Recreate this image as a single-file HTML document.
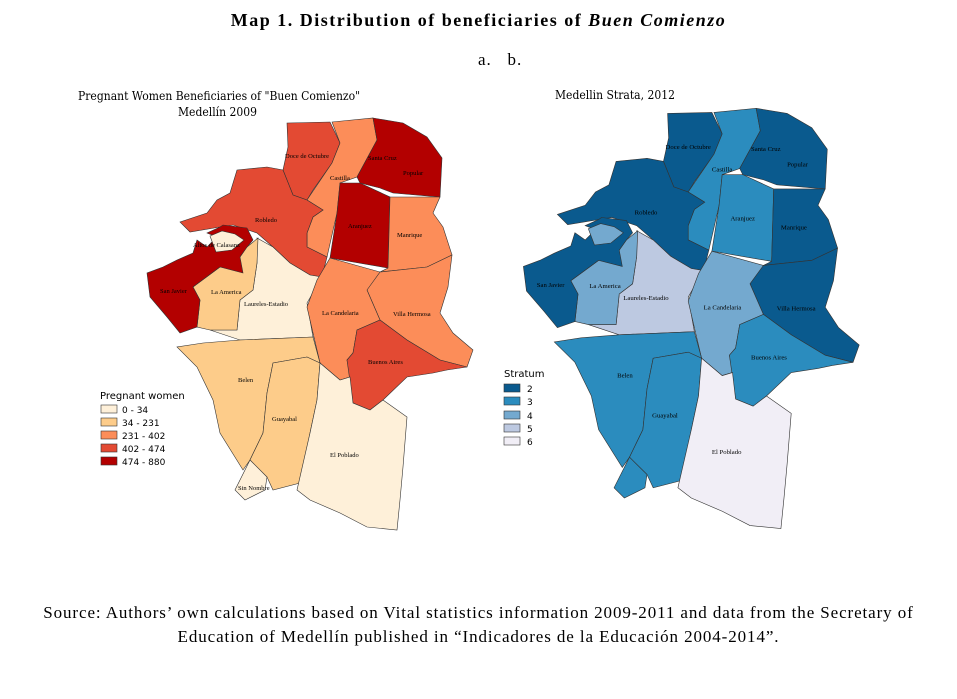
<!DOCTYPE html>
<html><head><meta charset="utf-8"><style>
body{margin:0;width:957px;height:699px;background:#fff;font-family:"Liberation Serif",serif;position:relative;overflow:hidden}
.t{position:absolute;white-space:nowrap}
svg{position:absolute;left:0;top:0}
</style></head><body>
<div class="t" style="left:0;width:957px;text-align:center;top:10px;font-size:18px;font-weight:bold;letter-spacing:1.5px">Map 1. Distribution of beneficiaries of <i>Buen Comienzo</i></div>
<div class="t" style="left:478px;top:50px;font-size:17px;letter-spacing:1px">a.&nbsp;&nbsp;&nbsp;b.</div>
<div class="t" style="left:78px;top:89px;font-size:12px;font-family:'DejaVu Serif',serif;transform:scaleX(0.9);transform-origin:left">Pregnant Women Beneficiaries of "Buen Comienzo"</div>
<div class="t" style="left:178px;top:105px;font-size:12px;font-family:'DejaVu Serif',serif;transform:scaleX(0.9);transform-origin:left">Medellín 2009</div>
<div class="t" style="left:555px;top:88px;font-size:12px;font-family:'DejaVu Serif',serif;transform:scaleX(0.9);transform-origin:left">Medellin Strata, 2012</div>
<svg width="957" height="699" viewBox="0 0 957 699" font-family="Liberation Serif,serif">
<defs>
<g id="m" stroke="#333" stroke-width="0.6">
<polygon id="doce" points="287,123 330,122 340,143 332,163 313,190 307,200 293,195 283,170 288,147"/>
<polygon id="cast" points="332,122 373,118 377,140 357,177 340,183 337,213 327,257 307,247 307,233 313,217 323,210 307,200 332,163 340,143"/>
<polygon id="sc" points="373,118 403,123 427,137 442,158 440,197 393,193 380,188 360,183 357,177 377,140"/>
<polygon id="ar" points="340,183 360,183 390,197 388,268 330,258 337,213"/>
<polygon id="man" points="390,197 440,197 433,213 443,227 452,255 427,267 380,272 388,268"/>
<polygon id="rob" points="237,170 267,167 283,170 293,195 307,200 323,210 313,217 307,233 307,247 327,257 322,277 310,275 290,263 273,247 257,233 233,225 220,227 190,232 180,222 207,213 217,200 230,193"/>
<polygon id="lau" points="257,238 273,247 290,263 310,275 322,277 307,303 313,337 240,340 210,330 237,330 240,300 253,290 257,263"/>
<polygon id="am" points="258,238 257,263 253,290 240,300 237,330 210,330 197,327 200,300 193,287 220,267 240,257 247,247"/>
<polygon id="sj" points="223,225 247,228 253,240 247,247 240,257 243,273 220,267 193,287 200,300 197,327 180,333 167,317 150,297 147,273 163,267 177,260 193,253 197,240 207,247 217,237 207,233 220,227"/>
<polygon id="alt" points="210,236 222,231 235,234 244,240 232,250 216,252"/>
<polygon id="vh" points="380,272 427,267 452,255 448,287 440,313 453,333 473,350 467,367 440,360 407,340 380,320 367,290 373,273"/>
<polygon id="can" points="330,258 380,272 367,290 380,320 357,330 353,353 347,360 350,377 340,380 320,363 313,333 307,307 317,280"/>
<polygon id="ba" points="357,330 380,320 407,340 440,360 467,367 447,370 433,373 407,377 383,400 370,410 353,403 347,360 353,353"/>
<polygon id="bel" points="203,343 240,340 313,337 320,363 307,357 273,363 267,393 263,433 250,460 243,470 220,433 213,400 197,367 177,347"/>
<polygon id="gua" points="273,363 307,357 320,363 317,400 310,433 300,483 273,490 267,477 250,460 263,433 267,393"/>
<polygon id="pob" points="320,363 340,380 350,377 353,403 370,410 383,400 407,417 403,467 400,500 397,530 367,527 340,513 310,500 297,490 310,433 317,400"/>
<polygon id="sn" points="250,460 267,477 265,490 245,500 235,490"/>
</g>
</defs>
<g stroke="#333" stroke-width="0.6">
<use href="#doce" fill="#e34a33"/><use href="#cast" fill="#fc8d59"/><use href="#sc" fill="#b30000"/><use href="#ar" fill="#b30000"/>
<use href="#man" fill="#fc8d59"/><use href="#rob" fill="#e34a33"/><use href="#lau" fill="#fef0d9"/><use href="#am" fill="#fdcc8a"/>
<use href="#sj" fill="#b30000"/><use href="#alt" fill="#fef0d9"/><use href="#vh" fill="#fc8d59"/><use href="#can" fill="#fc8d59"/>
<use href="#ba" fill="#e34a33"/><use href="#bel" fill="#fdcc8a"/><use href="#gua" fill="#fdcc8a"/><use href="#pob" fill="#fef0d9"/><use href="#sn" fill="#fef0d9"/>
</g>
<g transform="translate(372,-12) scale(1.03,1.02)" stroke="#333" stroke-width="0.6">
<use href="#doce" fill="#0a5a8e"/><use href="#cast" fill="#2b8cbe"/><use href="#sc" fill="#0a5a8e"/><use href="#ar" fill="#2b8cbe"/>
<use href="#man" fill="#0a5a8e"/><use href="#rob" fill="#0a5a8e"/><use href="#lau" fill="#bdc9e1"/><use href="#am" fill="#74a9cf"/>
<use href="#sj" fill="#0a5a8e"/><use href="#alt" fill="#74a9cf"/><use href="#vh" fill="#0a5a8e"/><use href="#can" fill="#74a9cf"/>
<use href="#ba" fill="#2b8cbe"/><use href="#bel" fill="#2b8cbe"/><use href="#gua" fill="#2b8cbe"/><use href="#pob" fill="#f1eef6"/><use href="#sn" fill="#2b8cbe"/>
</g>
<g font-size="6.5" fill="#000">
<text x="285" y="158">Doce de Octubre</text><text x="330" y="180">Castilla</text><text x="368" y="160">Santa Cruz</text><text x="403" y="175">Popular</text>
<text x="348" y="228">Aranjuez</text><text x="397" y="237">Manrique</text><text x="255" y="222">Robledo</text><text x="193" y="247">Altos de Calasanz</text>
<text x="160" y="293">San Javier</text><text x="211" y="294">La America</text><text x="244" y="306">Laureles-Estadio</text><text x="322" y="315">La Candelaria</text>
<text x="393" y="316">Villa Hermosa</text><text x="368" y="364">Buenos Aires</text><text x="238" y="382">Belen</text><text x="272" y="421">Guayabal</text>
<text x="330" y="457">El Poblado</text><text x="238" y="490">Sin Nombre</text>
<g transform="translate(372,-12) scale(1.03,1.02)">
<text x="285" y="158">Doce de Octubre</text><text x="330" y="180">Castilla</text><text x="368" y="160">Santa Cruz</text><text x="403" y="175">Popular</text>
<text x="348" y="228">Aranjuez</text><text x="397" y="237">Manrique</text><text x="255" y="222">Robledo</text>
<text x="160" y="293">San Javier</text><text x="211" y="294">La America</text><text x="244" y="306">Laureles-Estadio</text><text x="322" y="315">La Candelaria</text>
<text x="393" y="316">Villa Hermosa</text><text x="368" y="364">Buenos Aires</text><text x="238" y="382">Belen</text><text x="272" y="421">Guayabal</text>
<text x="330" y="457">El Poblado</text></g>
</g>
<g font-family="DejaVu Sans,sans-serif" font-size="9" stroke-width="0.6">
<text x="100" y="399" font-size="10">Pregnant women</text>
<rect x="101" y="405" width="16" height="8" fill="#fef0d9" stroke="#333"/><text x="122" y="413">0 - 34</text>
<rect x="101" y="418" width="16" height="8" fill="#fdcc8a" stroke="#333"/><text x="122" y="426">34 - 231</text>
<rect x="101" y="431" width="16" height="8" fill="#fc8d59" stroke="#333"/><text x="122" y="439">231 - 402</text>
<rect x="101" y="444" width="16" height="8" fill="#e34a33" stroke="#333"/><text x="122" y="452">402 - 474</text>
<rect x="101" y="457" width="16" height="8" fill="#b30000" stroke="#333"/><text x="122" y="465">474 - 880</text>
<text x="504" y="377" font-size="10">Stratum</text>
<rect x="504" y="384" width="16" height="8" fill="#0a5a8e" stroke="#333"/><text x="527" y="392">2</text>
<rect x="504" y="397" width="16" height="8" fill="#2b8cbe" stroke="#333"/><text x="527" y="405">3</text>
<rect x="504" y="411" width="16" height="8" fill="#74a9cf" stroke="#333"/><text x="527" y="419">4</text>
<rect x="504" y="424" width="16" height="8" fill="#bdc9e1" stroke="#333"/><text x="527" y="432">5</text>
<rect x="504" y="437" width="16" height="8" fill="#f1eef6" stroke="#333"/><text x="527" y="445">6</text>
</g>
</svg>
<div class="t" style="left:0;width:957px;text-align:center;top:603px;font-size:17px;letter-spacing:0.9px">Source: Authors’ own calculations based on Vital statistics information 2009-2011 and data from the Secretary of</div>
<div class="t" style="left:0;width:957px;text-align:center;top:627px;font-size:17px;letter-spacing:0.9px">Education of Medellín published in “Indicadores de la Educación 2004-2014”.</div>
</body></html>
